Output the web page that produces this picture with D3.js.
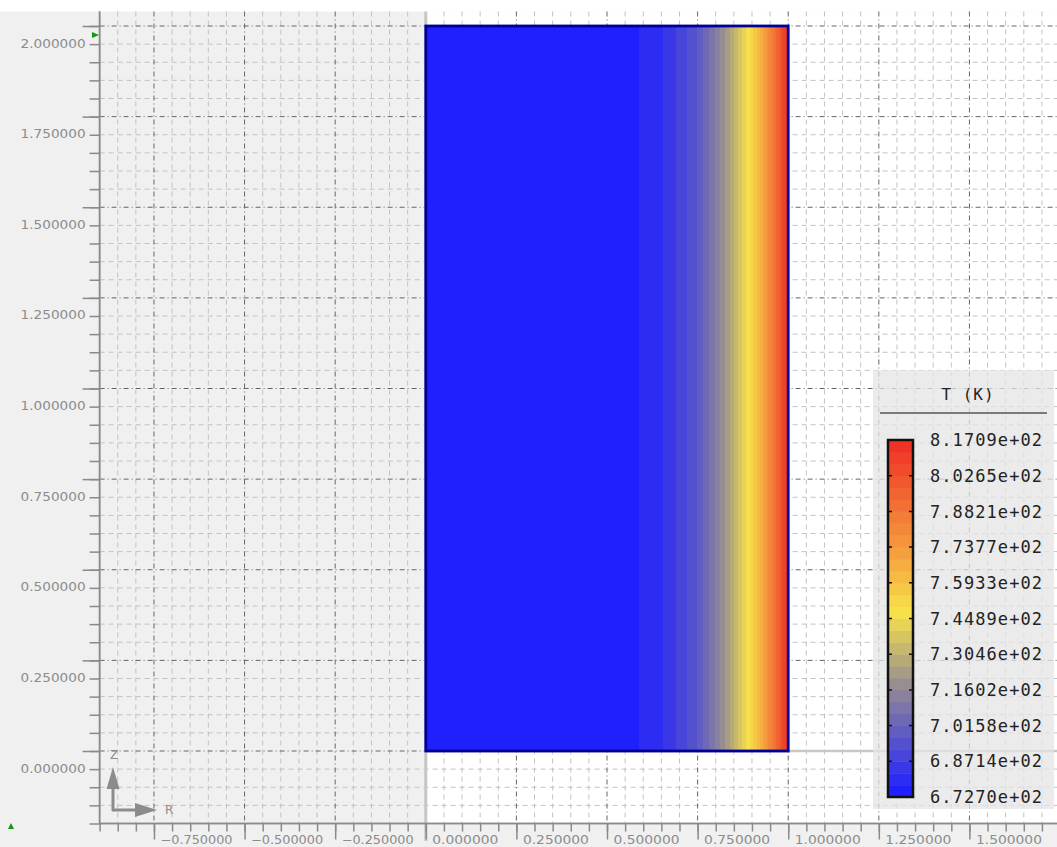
<!DOCTYPE html>
<html>
<head>
<meta charset="utf-8">
<script src="https://cdn.jsdelivr.net/npm/d3@7"></script>
<style>
  body { margin: 0; background: #fff; }
  svg { display: block; }
  .tick-label { font-family: 'DejaVu Sans', sans-serif; font-size: 12px; fill: #8c8c8c; }
  .legend-text { font-family: 'DejaVu Sans Mono', monospace; fill: #222; }
</style>
</head>
<body>
<svg id="chart"></svg>
<script>
// temperature profile along R
const rSamples = [0.0, 0.30, 0.50, 0.587, 0.653, 0.689, 0.722, 0.749, 0.766, 0.79, 0.813, 0.85, 0.89, 0.92, 0.94, 0.97, 1.0]
const tSamples = [672.70, 673.2, 674.8, 677.5, 682.3, 687.1, 692.0, 696.8, 701.6, 708.5, 716.0, 730.0, 748.0, 762.0, 775.0, 795.0, 817.09]

// domain of the mesh block
const rExtent = [0, 1]
const zExtent = [0, 2]

// colour table
const colorFracs = [0, 0.30, 0.52, 0.70, 1]
const colorList = ['#2020ff', '#928a94', '#f8e24a', '#f59c3e', '#ef3426']
const nBands = 30

// legend labels
const legendTitle = 'T (K)'
const legendLabels = ['8.1709e+02', '8.0265e+02', '7.8821e+02', '7.7377e+02', '7.5933e+02',
                      '7.4489e+02', '7.3046e+02', '7.1602e+02', '7.0158e+02', '6.8714e+02', '6.7270e+02']

// axis ticks
const xMajor = [-0.75, -0.5, -0.25, 0, 0.25, 0.5, 0.75, 1.0, 1.25, 1.5]
const yMajor = [0, 0.25, 0.5, 0.75, 1.0, 1.25, 1.5, 1.75, 2.0]

const w = 1057
const h = 847
const svg = d3.select('#chart').attr('width', w).attr('height', h)

const xScale = d3.scaleLinear().domain([-0.9, 1.7416]).range([99.6, 1057])
const yScale = d3.scaleLinear().domain([-0.2, 2.04]).range([823.5, 11.5])

const xMinor = d3.range(-18, 35).map(i => i * 0.05)
const yMinor = d3.range(-4, 41).map(i => i * 0.05)

const tMin = tSamples[0]
const tMax = tSamples[tSamples.length - 1]
const tOfR = d3.scaleLinear().domain(rSamples).range(tSamples).clamp(true)
const cmap = d3.scaleLinear().domain(colorFracs).range(colorList).interpolate(d3.interpolateRgb)
const bandOf = t => Math.max(0, Math.min(nBands - 1, Math.floor((t - tMin) / (tMax - tMin) * nBands)))
const bandColor = i => cmap(i / (nBands - 1))

const plotLeft = xScale.range()[0]
const plotTop = yScale.range()[1]
const plotBottom = yScale.range()[0]
const x0 = xScale(0)
const y0 = yScale(0)

// backgrounds
svg.append('rect').attr('width', w).attr('height', h).attr('fill', '#f0f0f0')
svg.append('rect').attr('width', w).attr('height', plotTop).attr('fill', '#fff')
svg.append('rect')
  .attr('x', x0).attr('y', plotTop)
  .attr('width', w - x0).attr('height', plotBottom - plotTop)
  .attr('fill', '#fff')

// grid
const isMajor = (v, list) => list.some(m => Math.abs(m - v) < 1e-6)
const grid = svg.append('g')
grid.selectAll('.vminor').data(xMinor.filter(v => !isMajor(v, xMajor)))
  .enter().append('line')
  .attr('x1', d => xScale(d)).attr('x2', d => xScale(d))
  .attr('y1', plotTop).attr('y2', plotBottom)
  .attr('stroke', '#c2c2c2').attr('stroke-dasharray', '5,4')
grid.selectAll('.hminor').data(yMinor.filter(v => !isMajor(v, yMajor)))
  .enter().append('line')
  .attr('x1', plotLeft).attr('x2', w)
  .attr('y1', d => yScale(d)).attr('y2', d => yScale(d))
  .attr('stroke', '#c2c2c2').attr('stroke-dasharray', '5,4')
grid.selectAll('.vmajor').data(xMajor.filter(v => v !== 0))
  .enter().append('line')
  .attr('x1', d => xScale(d)).attr('x2', d => xScale(d))
  .attr('y1', plotTop).attr('y2', plotBottom)
  .attr('stroke', '#666').attr('stroke-dasharray', '5,3,1,3')
grid.selectAll('.hmajor').data(yMajor)
  .enter().append('line')
  .attr('x1', plotLeft).attr('x2', d => d === 0 ? x0 : w)
  .attr('y1', d => yScale(d)).attr('y2', d => yScale(d))
  .attr('stroke', '#666').attr('stroke-dasharray', '5,3,1,3')

// symmetry lines
svg.append('line')
  .attr('x1', x0).attr('x2', x0).attr('y1', plotTop).attr('y2', h - 6)
  .attr('stroke', '#c6c6c6').attr('stroke-width', 3)
svg.append('line')
  .attr('x1', x0).attr('x2', w).attr('y1', y0).attr('y2', y0)
  .attr('stroke', '#c8c8c8').attr('stroke-width', 2.5)

// pseudocolour field, one strip per pixel column
const px0 = Math.round(xScale(rExtent[0]))
const px1 = Math.round(xScale(rExtent[1]))
const field = svg.append('g')
field.selectAll('rect')
  .data(d3.range(px0, px1))
  .enter().append('rect')
  .attr('x', d => d).attr('width', 1.2)
  .attr('y', yScale(zExtent[1])).attr('height', yScale(zExtent[0]) - yScale(zExtent[1]))
  .attr('fill', d => bandColor(bandOf(tOfR(xScale.invert(d + 0.5)))))
svg.append('rect')
  .attr('x', xScale(rExtent[0])).attr('y', yScale(zExtent[1]))
  .attr('width', xScale(rExtent[1]) - xScale(rExtent[0]))
  .attr('height', yScale(zExtent[0]) - yScale(zExtent[1]))
  .attr('fill', 'none').attr('stroke', '#000099').attr('stroke-width', 2.8)

// axes
const axisColor = '#8a8a8a'
const yAxisMinor = d3.axisLeft(yScale).tickValues(yMinor).tickSize(10).tickFormat('')
const yAxisMajor = d3.axisLeft(yScale).tickValues(yMajor).tickSize(17).tickFormat(d3.format('.6f'))
const xAxisMinor = d3.axisBottom(xScale).tickValues(xMinor).tickSize(8).tickFormat('')
const xAxisMajor = d3.axisBottom(xScale).tickValues(xMajor).tickSize(16).tickFormat(d3.format('.6f'))

const gy = svg.append('g').attr('transform', 'translate(' + plotLeft + ', 0)')
gy.append('g').call(yAxisMinor)
gy.append('g').attr('class', 'major').call(yAxisMajor)
gy.selectAll('.major text')
  .attr('class', 'tick-label')
  .attr('x', -14).attr('dy', '1.75em')
  .attr('textLength', 65).attr('lengthAdjust', 'spacingAndGlyphs')

const gx = svg.append('g').attr('transform', 'translate(0, ' + plotBottom + ')')
gx.append('g').call(xAxisMinor)
gx.append('g').attr('class', 'major').call(xAxisMajor)
gx.selectAll('.major text')
  .attr('class', 'tick-label')
  .attr('text-anchor', 'start')
  .attr('x', 6).attr('y', 12).attr('dy', '0.71em')
  .attr('textLength', d => d < 0 ? 72 : 66).attr('lengthAdjust', 'spacingAndGlyphs')

svg.selectAll('.domain').attr('stroke', axisColor).attr('stroke-width', 1.5)
svg.selectAll('.tick line').attr('stroke', axisColor).attr('stroke-width', 1.5)
gy.selectAll('.domain').attr('d', 'M0,' + plotTop + 'V' + plotBottom)
gx.selectAll('.domain').attr('d', 'M' + plotLeft + ',0H' + w)

// axis triad
const triad = svg.append('g').attr('fill', '#8c8c8c').attr('stroke', '#8c8c8c')
triad.append('path').attr('d', 'M113,811V786M112,810H137').attr('stroke-width', 3).attr('fill', 'none')
triad.append('path').attr('d', 'M113,767L106.5,789L119.5,789Z').attr('stroke', 'none')
triad.append('path').attr('d', 'M157,810L135,803L135,817Z').attr('stroke', 'none')
triad.append('text').attr('x', 114).attr('y', 759).attr('text-anchor', 'middle')
  .attr('class', 'tick-label').attr('stroke', 'none').text('Z')
triad.append('text').attr('x', 165).attr('y', 814)
  .attr('class', 'tick-label').attr('stroke', 'none').text('R')

// interaction markers
svg.append('path').attr('d', 'M92,32L99,35L92,38Z').attr('fill', '#119911')
svg.append('path').attr('d', 'M8,829L11,823L14,829Z').attr('fill', '#119911')

// legend
const lg = svg.append('g')
lg.append('rect').attr('x', 873).attr('y', 370).attr('width', 181).attr('height', 439)
  .attr('fill', '#e4e4e4').attr('opacity', 0.75)
lg.append('text').attr('class', 'legend-text').attr('x', 968).attr('y', 400)
  .attr('text-anchor', 'middle').attr('font-size', 16).attr('letter-spacing', 1).text(legendTitle)
lg.append('line').attr('x1', 880).attr('x2', 1047).attr('y1', 413).attr('y2', 413)
  .attr('stroke', '#555').attr('stroke-width', 1.5)

const cbTop = 440
const cbBottom = 797
const cb = d3.scaleLinear().domain([0, legendLabels.length - 1]).range([cbTop, cbBottom])
const cbBand = d3.scaleLinear().domain([0, nBands]).range([cbBottom, cbTop])
lg.selectAll('.band').data(d3.range(nBands)).enter().append('rect')
  .attr('x', 888).attr('width', 25)
  .attr('y', d => cbBand(d + 1)).attr('height', d => cbBand(d) - cbBand(d + 1) + 0.5)
  .attr('fill', d => bandColor(d))
lg.append('rect').attr('x', 888).attr('y', cbTop).attr('width', 25).attr('height', cbBottom - cbTop)
  .attr('fill', 'none').attr('stroke', '#111').attr('stroke-width', 2.5)
lg.selectAll('.cbtick').data(d3.range(1, legendLabels.length - 1)).enter().append('path')
  .attr('d', d => 'M888,' + cb(d) + 'h4M913,' + cb(d) + 'h-4')
  .attr('stroke', '#111').attr('stroke-width', 1.5)
lg.selectAll('.lab').data(legendLabels).enter().append('text')
  .attr('class', 'legend-text')
  .attr('x', 930).attr('y', (d, i) => cb(i)).attr('dy', '0.36em')
  .attr('font-size', 17).attr('textLength', 112).attr('lengthAdjust', 'spacing')
  .text(d => d)
</script>
</body>
</html>
